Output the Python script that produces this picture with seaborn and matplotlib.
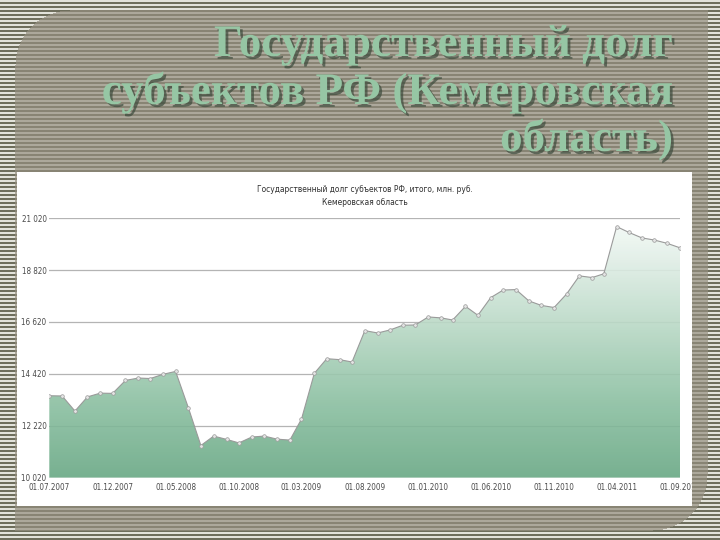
import numpy as np
import pandas as pd
import matplotlib
matplotlib.use('Agg')
import matplotlib.pyplot as plt
import matplotlib.dates as mdates
import seaborn as sns
from matplotlib import font_manager as fm
from matplotlib.colors import LinearSegmentedColormap, to_rgb
from matplotlib.patches import Rectangle
from matplotlib.transforms import Bbox
import matplotlib.patheffects as pe

# ---------------- data ----------------
debt = [13490, 13480, 12840, 13440, 13600, 13590, 14140, 14240, 14220, 14400,
        14520, 12970, 11380, 11780, 11640, 11490, 11740, 11780, 11650, 11610,
        12500, 14440, 15060, 15020, 14920, 16250, 16150, 16280, 16480, 16490,
        16830, 16790, 16700, 17280, 16900, 17650, 17970, 17990, 17510, 17320,
        17230, 17800, 18570, 18500, 18660, 20660, 20410, 20180, 20090, 19950,
        19760]
start_month = '2007-07-01'
y_ticks = [10020, 12220, 14420, 16620, 18820, 21020]
y_tick_labels = ['10 020', '12 220', '14 420', '16 620', '18 820', '21 020']
x_tick_labels = ['01.07.2007', '01.12.2007', '01.05.2008', '01.10.2008',
                 '01.03.2009', '01.08.2009', '01.01.2010', '01.06.2010',
                 '01.11.2010', '01.04.2011', '01.09.2011']
chart_title = 'Государственный долг субъектов РФ, итого, млн. руб.\nКемеровская область'
slide_title_lines = ['Государственный долг', 'субъектов РФ (Кемеровская', 'область)']

dates = pd.date_range(start_month, periods=len(debt), freq='MS')
df = pd.DataFrame({'date': dates, 'debt': debt})
tick_dates = pd.to_datetime(x_tick_labels, format='%d.%m.%Y')

# ---------------- narrow font lookup ----------------
def find_font(keys):
    for key in keys:
        for f in fm.fontManager.ttflist:
            fn = f.fname.replace('-', '').replace('_', '').lower()
            if key in fn and 'bold' not in fn and 'italic' not in fn and 'oblique' not in fn:
                return f.fname
    return None

narrow = find_font(['liberationsansnarrowregular', 'liberationsansnarrow'])
if narrow:
    small_fp = fm.FontProperties(fname=narrow)
    tick_fs, ctitle_fs = 6.8, 6.9
else:
    cond = find_font(['dejavusanscondensed.ttf', 'robotocondensedregular', 'opensanscondensedregular'])
    if cond:
        small_fp = fm.FontProperties(fname=cond)
        tick_fs, ctitle_fs = 5.8, 6.0
    else:
        small_fp = fm.FontProperties(family='Liberation Sans')
        tick_fs, ctitle_fs = 5.6, 5.8

W, H = 720, 540
fig = plt.figure(figsize=(W / 100, H / 100), dpi=100)

# ---------------- striped slide background ----------------
bg = fig.add_axes([0, 0, 1, 1])
yy, xx = np.mgrid[0:H, 0:W]
stripe = (yy % 4) < 2
outer_l, outer_d = np.array(to_rgb('#e2e2da')), np.array(to_rgb('#6e6e5c'))
inner_l, inner_d = np.array(to_rgb('#aca89b')), np.array(to_rgb('#888474'))
panel = (xx >= 15) & (xx <= 707) & (yy >= 10) & (yy <= 530)
r = 55
tl = (xx < 15 + r) & (yy < 10 + r) & (((xx - (15 + r)) ** 2 + (yy - (10 + r)) ** 2) > r ** 2)
br = (xx > 707 - r) & (yy > 530 - r) & (((xx - (707 - r)) ** 2 + (yy - (530 - r)) ** 2) > r ** 2)
panel = panel & ~tl & ~br
img = np.where(stripe[..., None],
               np.where(panel[..., None], inner_l, outer_l),
               np.where(panel[..., None], inner_d, outer_d))
bg.imshow(img, extent=(0, W, H, 0), aspect='auto', interpolation='nearest')
bg.add_patch(Rectangle((17, 172), 675, 334, facecolor='white', edgecolor='none'))
bg.set_xlim(0, W)
bg.set_ylim(H, 0)
bg.axis('off')

# ---------------- slide title ----------------
baselines = [56, 104, 151]
for line, b in zip(slide_title_lines, baselines):
    fig.text(673 / W, 1 - b / H, line, ha='right', va='baseline',
             family=['Liberation Serif', 'DejaVu Serif'], fontweight='bold',
             fontsize=32.5, color='#96c6a4',
             path_effects=[pe.withSimplePatchShadow(offset=(2, -2),
                                                    shadow_rgbFace='#3c4a3c',
                                                    alpha=0.7)])

# ---------------- chart ----------------
ax = fig.add_axes([49.3 / W, 1 - 477.6 / H, (680 - 49.3) / W, 259.5 / H])
ax.set_facecolor('white')
ymin, ymax = y_ticks[0], y_ticks[-1]

sns.lineplot(data=df, x='date', y='debt', ax=ax, color='#9a9a9a', lw=0.8,
             marker='o', markersize=2.6, markerfacecolor='#e4e4e4',
             markeredgecolor='#9a9a9a', markeredgewidth=0.5, zorder=5)

fill = ax.fill_between(df['date'], df['debt'], ymin, facecolor='none',
                       edgecolor='none')
cmap = LinearSegmentedColormap.from_list('g', [
    (0.0, '#68a884'), (0.3, '#8cc0a2'), (0.57, '#b6d7c3'),
    (0.84, '#e0eee6'), (1.0, '#f6fbf8')])
grad = np.linspace(1, 0, 256)[:, None]
x0, x1 = dates[0], dates[-1]
im = ax.imshow(grad, cmap=cmap, aspect='auto', vmin=0, vmax=1, alpha=0.9,
               extent=(mdates.date2num(x0), mdates.date2num(x1), ymin, ymax),
               zorder=2)
im.set_clip_path(fill.get_paths()[0], transform=ax.transData)

ax.set_xlim(x0, x1)
ax.set_ylim(ymin, ymax)
ax.set_yticks(y_ticks)
ax.set_yticklabels(y_tick_labels)
ax.set_xticks(tick_dates)
ax.set_xticklabels(x_tick_labels)
ax.grid(axis='y', color='#b4b4b4', lw=0.9, zorder=1)
ax.grid(axis='x', visible=False)
ax.set_axisbelow(True)
for s in ax.spines.values():
    s.set_visible(False)
ax.tick_params(length=0, labelcolor='#4a4a4a')
ax.tick_params(axis='y', pad=2)
ax.tick_params(axis='x', pad=4)
ax.set_xlabel('')
ax.set_ylabel('')
for lab in ax.get_xticklabels() + ax.get_yticklabels():
    lab.set_fontproperties(small_fp)
    lab.set_fontsize(tick_fs)

clip = Bbox.from_extents(17, H - 506, 692, H - 172)
for lab in ax.get_xticklabels():
    lab.set_clip_box(clip)
    lab.set_clip_on(True)

fig.text(364.7 / W, 1 - 196 / H, chart_title, ha='center', va='center',
         fontproperties=small_fp, fontsize=ctitle_fs, color='#303030',
         linespacing=1.45)

fig.savefig('out.png', dpi=100)
